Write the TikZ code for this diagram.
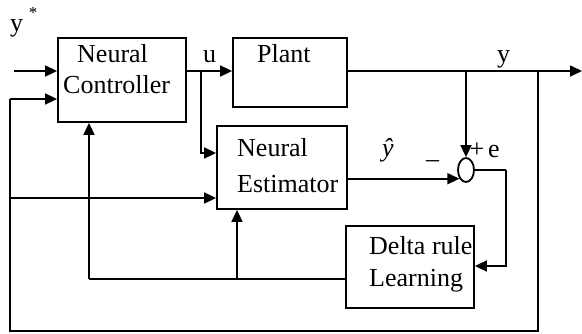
\documentclass[tikz,border=0pt]{standalone}
\usepackage{fontspec}
\setmainfont{Liberation Serif}
\usetikzlibrary{arrows.meta,shapes.geometric}
\begin{document}
\begin{tikzpicture}[x=1pt,y=-1pt,
  every node/.style={font=\fontsize{26}{31}\selectfont, inner sep=0pt},
  blk/.style={draw, line width=1.8pt, rectangle},
  txt/.style={anchor=base west},
  ln/.style={line width=1.6pt},
  arr/.style={line width=1.6pt, -{Triangle[length=12pt,width=11pt]}},
  ]
\useasboundingbox (0,0) rectangle (582,333);
% blocks
\node[blk, minimum width=128pt, minimum height=84pt] (nc) at (122,80) {};
\node[blk, minimum width=114pt, minimum height=69pt] (plant) at (290,72.5) {};
\node[blk, minimum width=130pt, minimum height=83pt] (ne) at (282,167.5) {};
\node[blk, minimum width=128pt, minimum height=82pt] (dr) at (410,267) {};
\node[draw, line width=1.8pt, ellipse, minimum width=16pt, minimum height=24pt] (sum) at (466,170) {};
% texts
\node[txt] (t1) at (77,62) {Neural};
\node[txt] (t2) at (63,93) {Controller};
\node[txt] (t3) at (257,62) {Plant};
\node[txt] (t4) at (237,156) {Neural};
\node[txt] (t5) at (237,192) {Estimator};
\node[txt] (t6) at (369,254) {Delta rule};
\node[txt] (t7) at (369,286) {Learning};
\node[txt] (ly) at (10,31) {y};
\node[font=\fontsize{17}{20}\selectfont] (lstar) at (33,13) {*};
\node[txt] (lu) at (203,62) {u};
\node[txt] (lyo) at (497,62) {y};
\node[txt] (lyh) at (382,156) {\itshape\^y};
\node[txt] (lm) at (426,158) {\_};
\node (lp) at (477,150) {+};
\node[txt] (le) at (488,157) {e};
% coordinates
\coordinate (in1) at (14,71);
\coordinate (u) at (201,71);
\coordinate (yb) at (466,71);
\coordinate (yr) at (538,71);
\coordinate (yend) at (582,71);
\coordinate (fbr) at (538,331);
\coordinate (fbl) at (10,331);
\coordinate (fbe) at (10,198);
\coordinate (fbc) at (10,99);
\coordinate (ec) at (506,170);
\coordinate (db) at (237,279);
\coordinate (dl) at (89,279);
% connectors
\draw[arr] (in1) -- (in1 -| nc.west);
\draw[ln] (nc.east |- u) -- (u);
\draw[arr] (u) -- (u -| plant.west);
\draw[arr] (u) |- (ne.west |- 0,153);
\draw[ln] (plant.east |- yb) -- (yb) -- (yr);
\draw[arr] (yr) -- (yend);
\draw[arr] (yb) -- (sum.north);
\draw[ln] (yr) -- (fbr) -- (fbl) -- (fbc);
\draw[arr] (fbc) -- (fbc -| nc.west);
\draw[arr] (fbe) -- (fbe -| ne.west);
\draw[arr] (ne.east |- sum.233) -- (sum.233);
\draw[ln] (sum.east) -- (ec);
\draw[arr] (ec) |- (dr.east |- 0,266);
\draw[ln] (dr.west |- db) -- (db) -- (dl);
\draw[arr] (dl) -- (dl |- nc.south);
\draw[arr] (db) -- (db |- ne.south);
\end{tikzpicture}
\end{document}
